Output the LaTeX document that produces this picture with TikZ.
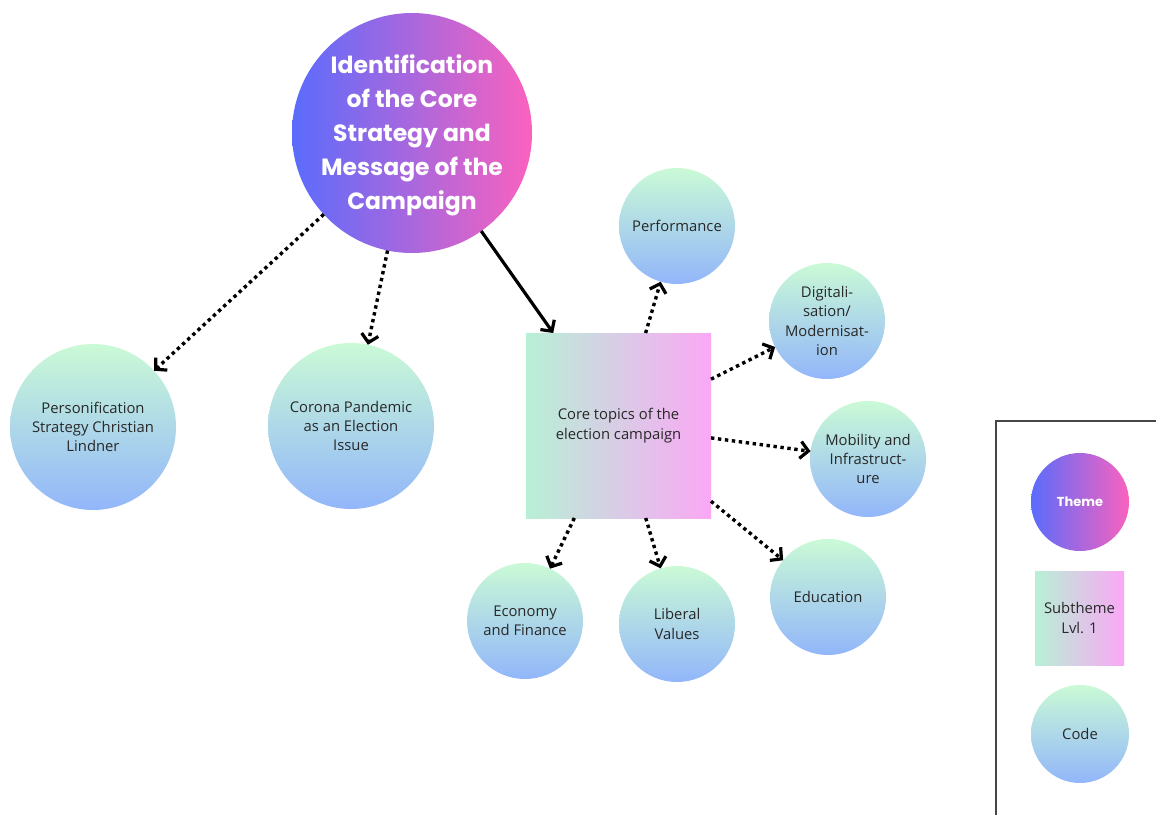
\documentclass[tikz,border=0pt]{standalone}
\usepackage{fontspec}
\setmainfont{Open Sans}
\newfontfamily\headfont{Poppins}
\usetikzlibrary{arrows.meta}
\definecolor{thmL}{RGB}{90,108,252}
\definecolor{thmR}{RGB}{250,98,190}
\definecolor{codeT}{RGB}{202,250,214}
\definecolor{codeB}{RGB}{146,182,250}
\definecolor{subL}{RGB}{184,240,214}
\definecolor{subR}{RGB}{250,168,245}
\definecolor{txt}{RGB}{40,40,40}
\definecolor{framegray}{RGB}{70,70,70}
\begin{document}
\begin{tikzpicture}[x=1pt,y=-1pt,
  theme/.style={circle, inner sep=0pt, outer sep=0pt, draw=none,
    left color=thmL, right color=thmR},
  code/.style={circle, inner sep=0pt, outer sep=0pt, draw=none,
    top color=codeT, bottom color=codeB, text=txt, align=center,
    font=\fontsize{14.8}{19.3}\selectfont},
  bigcode/.style={code, minimum size=166pt},
  smallcode/.style={code, minimum size=116pt},
  subbox/.style={rectangle, inner sep=0pt, outer sep=0pt, draw=none,
    left color=subL, right color=subR, text=txt, align=center,
    font=\fontsize{14.8}{20}\selectfont},
  themetext/.style={text=white, align=center, yshift=-2pt,
    font=\headfont\bfseries\fontsize{23.5}{34}\selectfont},
  tipstyle/.style={-{Straight Barb[length=8pt,width=17pt,line width=3.2pt]}},
  dotlink/.style={line width=3.4pt, dash pattern=on 3.4pt off 3.6pt, tipstyle},
  solidlink/.style={line width=3.2pt, tipstyle}
]
\useasboundingbox (0,0) rectangle (1156,814);

% main theme
\node[theme, minimum size=240pt,
  label={[themetext]center:Identification\\of the Core\\Strategy and\\Message of the\\Campaign}]
  (theme) at (412,133) {};

% codes directly under the theme
\node[bigcode] (pers) at (93,427) {Personification\\Strategy Christian\\Lindner};
\node[bigcode] (corona) at (351,426) {Corona Pandemic\\as an Election\\Issue};

% subtheme
\node[subbox, minimum width=185pt, minimum height=185pt] (core) at (618.5,425.5)
  {Core topics of the\\election campaign};

% codes of the subtheme
\node[smallcode] (perf) at (677,226) {Performance};
\node[smallcode] (digi) at (827,321) {Digitali-\\sation/\\Modernisat-\\ion};
\node[smallcode] (mob) at (868,459) {Mobility and\\Infrastruct-\\ure};
\node[smallcode] (edu) at (828,597) {Education};
\node[smallcode] (econ) at (525,621) {Economy\\and Finance};
\node[smallcode] (lib) at (677,624) {Liberal\\Values};

% connectors
\draw[dotlink] (theme) -- (pers);
\draw[dotlink] (theme) -- (corona);
\draw[solidlink] (theme) -- (core);
\draw[dotlink] (core) -- (perf);
\draw[dotlink] (core) -- (digi);
\draw[dotlink] (core) -- (mob);
\draw[dotlink] (core) -- (edu);
\draw[dotlink] (core) -- (econ);
\draw[dotlink] (core) -- (lib);

% legend
\draw[framegray, line width=1.4pt] (1160,421) -- (996,421) -- (996,818);
\node[theme, minimum size=98pt,
  label={[text=white, font=\headfont\bfseries\fontsize{13}{16}\selectfont]center:Theme}]
  (legtheme) at (1080,502) {};
\node[subbox, minimum width=89pt, minimum height=94pt] (legsub) at (1079.5,618)
  {Subtheme\\Lvl. 1};
\node[code, minimum size=98pt] (legcode) at (1080,734) {Code};
\end{tikzpicture}
\end{document}
